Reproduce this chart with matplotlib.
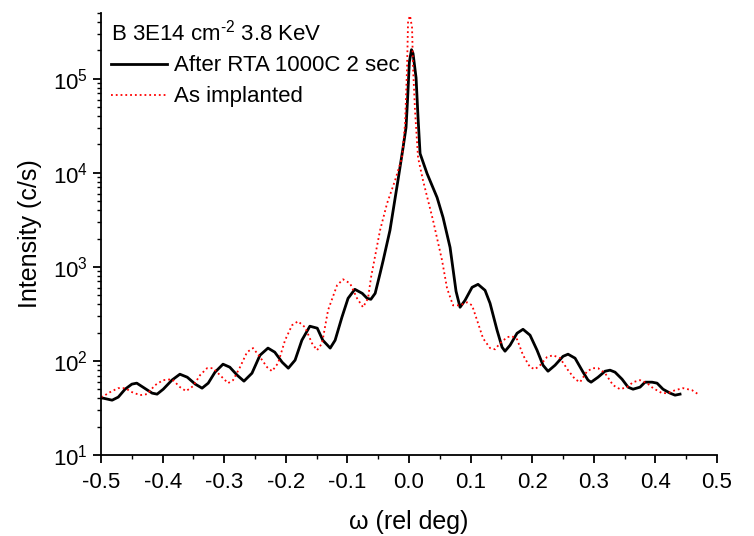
import numpy as np
import matplotlib
matplotlib.use("Agg")
import matplotlib.pyplot as plt
from matplotlib.ticker import MultipleLocator, LogLocator, NullFormatter, FormatStrFormatter

plt.rcParams['font.family'] = ['Liberation Sans', 'DejaVu Sans']
plt.rcParams['mathtext.fontset'] = 'custom'
plt.rcParams['mathtext.rm'] = 'Liberation Sans'
plt.rcParams['mathtext.it'] = 'Liberation Sans:italic'
plt.rcParams['axes.unicode_minus'] = False

# After RTA 1000C 2 sec
omega_rta = [-0.500, -0.497, -0.482, -0.472, -0.461, -0.450, -0.442, -0.432,
             -0.417, -0.409, -0.399, -0.385, -0.372, -0.360, -0.347, -0.336,
             -0.326, -0.315, -0.302, -0.291, -0.279, -0.268, -0.255, -0.242,
             -0.229, -0.218, -0.206, -0.196, -0.185, -0.174, -0.161, -0.149,
             -0.140, -0.128, -0.120, -0.109, -0.099, -0.088, -0.076, -0.068,
             -0.062, -0.055, -0.047, -0.042, -0.031, -0.018, -0.0097, -0.0049,
             -0.0025, 0.0005, 0.0040, 0.0065, 0.0114, 0.0146, 0.0179, 0.0292,
             0.0455, 0.0552, 0.0666, 0.0763, 0.0828, 0.0909, 0.1023, 0.112,
             0.1234, 0.1315, 0.1429, 0.151, 0.1558, 0.164, 0.1753, 0.185,
             0.1964, 0.2078, 0.2175, 0.2256, 0.237, 0.250, 0.2581, 0.2695,
             0.2825, 0.2906, 0.2955, 0.3068, 0.3182, 0.3263, 0.3344, 0.3458,
             0.3555, 0.3636, 0.375, 0.3831, 0.3945, 0.4026, 0.4123, 0.4237,
             0.4318, 0.4399]
int_rta = [40.3, 40.3, 38.3, 41.3, 50.1, 56.7, 58.1, 52.7,
           45.5, 44.4, 50.1, 62.5, 72.3, 67.2, 56.7, 51.4,
           58.1, 76.0, 92.4, 85.9, 70.6, 61.0, 74.1, 115,
           137, 124, 97.0, 83.8, 102, 166, 234, 223,
           166, 137, 166, 291, 463, 577, 523, 463,
           452, 523, 853, 1170, 2440, 8280, 18500, 30200,
           58400, 150000, 203000, 185000, 102000, 38600, 16000, 9820,
           5460, 3350, 1610, 550, 372, 441, 606, 652,
           563, 410, 212, 140, 127, 147, 197, 217,
           188, 130, 90.1, 77.8, 90.1, 112, 118, 107,
           76.0, 62.5, 59.5, 67.2, 77.8, 79.8, 76.0, 64.0,
           52.7, 50.1, 52.7, 59.5, 59.5, 58.1, 50.1, 45.5,
           43.3, 44.4]

# As implanted
omega_imp = [-0.500, -0.4935, -0.4854, -0.4724, -0.461, -0.4497, -0.4367, -0.4253,
             -0.4123, -0.3994, -0.3847, -0.3718, -0.362, -0.3506, -0.3393, -0.3279,
             -0.3182, -0.3068, -0.2938, -0.2857, -0.2744, -0.263, -0.2532, -0.2419,
             -0.2305, -0.2224, -0.2127, -0.2013, -0.1899, -0.1802, -0.1688, -0.1575,
             -0.1494, -0.1412, -0.1315, -0.1169, -0.1071, -0.0958, -0.0844, -0.0747,
             -0.0666, -0.0617, -0.0471, -0.0357, -0.0227, -0.0114, -0.0065, -0.0032,
             -0.0016, 0.0016, 0.0049, 0.0065, 0.0097, 0.0146, 0.0227, 0.039,
             0.0536, 0.0617, 0.0714, 0.0828, 0.0942, 0.1023, 0.1104, 0.1201,
             0.1315, 0.1396, 0.1477, 0.1591, 0.1672, 0.1753, 0.1851, 0.1964,
             0.2045, 0.2127, 0.224, 0.2338, 0.2451, 0.2581, 0.2695, 0.2776,
             0.289, 0.2987, 0.3068, 0.3182, 0.3312, 0.3425, 0.3539, 0.3636,
             0.375, 0.3864, 0.3961, 0.4107, 0.4205, 0.4318, 0.4448, 0.4594,
             0.4692]
int_imp = [41.3, 43.3, 46.6, 51.4, 51.4, 46.6, 43.3, 44.4,
           55.3, 62.5, 64.0, 52.7, 47.8, 54.0, 70.6, 83.8,
           83.8, 70.6, 58.1, 62.5, 85.9, 124, 137, 110,
           85.9, 77.8, 94.6, 166, 240, 264, 228, 154,
           130, 154, 346, 636, 737, 668, 463, 372,
           463, 774, 2440, 4720, 8280, 14500, 33300, 131000,
           412000, 466000, 348000, 131000, 45800, 14500, 8280, 3110,
           1170, 591, 390, 390, 420, 390, 271, 174,
           137, 133, 154, 179, 183, 170, 115, 85.9,
           81.7, 90.1, 110, 115, 107, 79.8, 64.0, 59.5,
           77.8, 83.8, 83.8, 74.1, 55.3, 50.1, 52.7, 59.5,
           62.5, 58.1, 51.4, 45.5, 45.5, 48.9, 51.4, 48.9,
           44.4]

fig = plt.figure(figsize=(7.54, 5.36), dpi=100)
ax = fig.add_axes([0.134, 0.151, 0.817, 0.825])

ax.plot(omega_rta, int_rta, color='black', lw=2.0, label='After RTA 1000C 2 sec',
        solid_joinstyle='round')
ax.plot(omega_imp, int_imp, color='red', lw=1.3, ls=':', label='As implanted')

ax.set_yscale('log')
ax.set_xlim(-0.5, 0.5)
ax.set_ylim(10, 5e5)
ax.xaxis.set_major_locator(MultipleLocator(0.1))
ax.xaxis.set_minor_locator(MultipleLocator(0.05))
ax.xaxis.set_major_formatter(FormatStrFormatter('%.1f'))
ax.yaxis.set_major_locator(LogLocator(base=10, numticks=10))
ax.yaxis.set_minor_locator(LogLocator(base=10, subs=np.arange(2, 10), numticks=20))
ax.yaxis.set_minor_formatter(NullFormatter())

for s in ['top', 'right']:
    ax.spines[s].set_visible(False)
for s in ['left', 'bottom']:
    ax.spines[s].set_linewidth(1.3)
ax.tick_params(which='major', direction='out', length=5.5, width=1.3, labelsize=16, pad=4)
ax.tick_params(axis='x', which='major', pad=7)
ax.tick_params(which='minor', direction='out', length=3, width=1.0)

ax.set_xlabel('ω (rel deg)', fontsize=18, labelpad=12)
ax.set_ylabel('Intensity (c/s)', fontsize=18, labelpad=8)

leg = ax.legend(title='B 3E14 cm$^{\\text{-2}}$ 3.8 KeV', loc='upper left',
                bbox_to_anchor=(-0.005, 1.015), frameon=False, fontsize=16,
                title_fontsize=16, alignment='left', handlelength=2.5,
                handletextpad=0.3, labelspacing=0.45, borderaxespad=0.2)

fig.savefig('out.png', dpi=100)
